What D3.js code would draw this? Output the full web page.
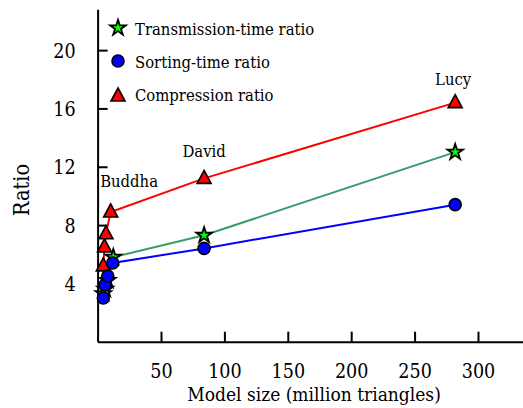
<!DOCTYPE html>
<html>
<head>
<meta charset="utf-8">
<script src="https://cdn.jsdelivr.net/npm/d3@7"></script>
<style>
  body { margin: 0; background: #fff; }
  svg { display: block; }
</style>
</head>
<body>
<main></main>
<script>
let svgWidth  = 523;
let svgHeight = 408;

// series data
let compX = [4.5, 5.4, 6.6, 10.3, 84, 282];
let compY = [5.2, 6.5, 7.4, 8.9, 11.2, 16.4];

let transX = [4.5, 6.0, 8.0, 12.4, 84, 282];
let transY = [3.3, 3.6, 4.2, 5.8, 7.3, 13.0];

let sortX = [4.5, 6.0, 8.0, 11.9, 84, 282];
let sortY = [3.0, 3.9, 4.5, 5.4, 6.4, 9.4];

let xTicks = [50, 100, 150, 200, 250, 300];
let yTicks = [4, 8, 12, 16, 20];

let legendNames = ['Transmission-time ratio', 'Sorting-time ratio', 'Compression ratio'];
let modelNames  = ['Buddha', 'David', 'Lucy'];

const serif = '"DejaVu Serif Condensed", "DejaVu Serif", serif';

let x = d3.scaleLinear().domain([0, 335.5]).range([97.6, 523]);
let y = d3.scaleLinear().domain([0, 22.8]).range([341.7, 9.3]);

function zip(xs, ys) {
  return xs.map(function(v, i) { return { x: v, y: ys[i] }; });
}

let series = [
  { key: 'trans', data: zip(transX, transY), line: '#3a9a6a', shape: 'star' },
  { key: 'sort',  data: zip(sortX,  sortY),  line: '#0000ff', shape: 'circle' },
  { key: 'comp',  data: zip(compX,  compY),  line: '#ff0000', shape: 'triangle' }
];

function drawMarker(sel, shape) {
  if (shape == 'circle') {
    sel.append('circle').attr('r', 6)
      .attr('fill', '#0000ff').attr('stroke', '#000').attr('stroke-width', 1.6);
  } else if (shape == 'triangle') {
    sel.append('path').attr('d', 'M0,-8 L7,5 L-7,5 Z')
      .attr('fill', '#ff0000').attr('stroke', '#000').attr('stroke-width', 1.6)
      .attr('stroke-linejoin', 'miter');
  } else {
    sel.append('path').attr('d', d3.symbol(d3.symbolStar, 75)())
      .attr('fill', '#00ff00').attr('stroke', '#000').attr('stroke-width', 1.8)
      .attr('stroke-linejoin', 'miter');
  }
}

let svg = d3.select('body main').append('svg')
  .attr('width', svgWidth)
  .attr('height', svgHeight)
  .attr('font-family', serif);

// axes
svg.append('g')
  .attr('transform', 'translate(0,' + y(0) + ')')
  .call(d3.axisBottom(x).tickValues(xTicks).tickSizeInner(-10).tickSizeOuter(0).tickPadding(22))
  .call(function(g) {
    g.attr('font-family', serif);
    g.select('.domain').attr('stroke-width', 2);
    g.selectAll('.tick line').attr('stroke-width', 2);
    g.selectAll('text').attr('font-size', 19.5);
  });

svg.append('g')
  .attr('transform', 'translate(' + x(0) + ',0)')
  .call(d3.axisLeft(y).tickValues(yTicks).tickSizeInner(-10).tickSizeOuter(0).tickPadding(-8))
  .call(function(g) {
    g.attr('font-family', serif);
    g.select('.domain').attr('stroke-width', 2);
    g.selectAll('.tick line').attr('stroke-width', 2);
    g.selectAll('text').attr('font-size', 19.5).attr('x', -22).attr('dy', '0.36em');
  });

svg.append('text')
  .attr('x', 314).attr('y', 401)
  .attr('text-anchor', 'middle')
  .attr('font-size', 19)
  .text('Model size (million triangles)');

svg.append('text')
  .attr('transform', 'translate(29,190) rotate(-90)')
  .attr('text-anchor', 'middle')
  .attr('font-size', 21.5)
  .text('Ratio');

// lines
let line = d3.line().x(function(d) { return x(d.x); }).y(function(d) { return y(d.y); });

series.forEach(function(s) {
  svg.append('path')
    .datum(s.data)
    .attr('d', line)
    .attr('fill', 'none')
    .attr('stroke', s.line)
    .attr('stroke-width', 2);
});

// markers
[series[2], series[0], series[1]].forEach(function(s) {
  var g = svg.append('g').selectAll('g')
    .data(s.data)
    .enter()
      .append('g')
      .attr('transform', function(d) { return 'translate(' + x(d.x) + ',' + y(d.y) + ')'; });
  drawMarker(g, s.shape);
});

// model labels
let labels = svg.append('g').attr('font-size', 16.5);
labels.append('text').attr('x', x(2)).attr('y', 187).text(modelNames[0]);
labels.append('text').attr('x', x(compX[4])).attr('y', y(compY[4]) - 21).attr('text-anchor', 'middle')
  .text(modelNames[1]);
labels.append('text').attr('x', x(compX[5]) - 2).attr('y', y(compY[5]) - 18).attr('text-anchor', 'middle')
  .text(modelNames[2]);

// legend
let legend = svg.append('g').attr('transform', 'translate(118,28)');
let shapes = ['star', 'circle', 'triangle'];
legendNames.forEach(function(name, i) {
  var row = legend.append('g').attr('transform', 'translate(0,' + (i * 33) + ')');
  drawMarker(row.append('g').attr('transform', i == 2 ? 'translate(0,2)' : null), shapes[i]);
  row.append('text').attr('x', 17).attr('y', 7).attr('font-size', 16.5).text(name);
});
</script>
</body>
</html>
